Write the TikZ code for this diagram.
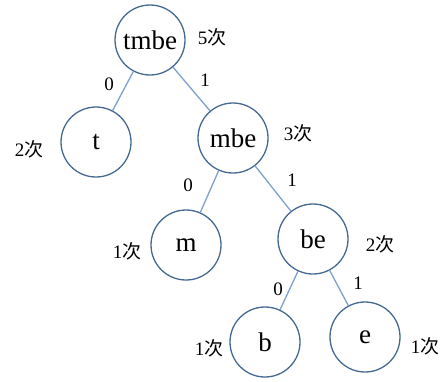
\documentclass[tikz,border=0pt]{standalone}
\usepackage{fontspec}
\setmainfont{Liberation Serif}
\newfontfamily\cjk{Noto Sans CJK SC}
\definecolor{circ}{RGB}{70,105,145}
\definecolor{edge}{RGB}{125,160,205}
\begin{document}
\begin{tikzpicture}[x=1pt,y=-1pt,
  tn/.style={circle,draw=circ,line width=1.3pt,minimum size=70pt,inner sep=0pt,font=\fontsize{27}{27}\selectfont},
  lb/.style={font=\fontsize{19}{19}\selectfont,inner sep=0pt},
  ed/.style={draw=edge,line width=1.3pt}]
\useasboundingbox (0,0) rectangle (446,381);
\node[tn] (tmbe) at (150,40) {tmbe};
\node[tn] (t) at (96,142) {t};
\node[tn] (mbe) at (233,138) {mbe};
\node[tn] (m) at (186,245) {m};
\node[tn] (be) at (313,239) {be};
\node[tn] (b) at (265,342) {b};
\node[tn] (e) at (365,337) {e};
\draw[ed] (tmbe) -- (t);
\draw[ed] (tmbe) -- (mbe);
\draw[ed] (mbe) -- (m);
\draw[ed] (mbe) -- (be);
\draw[ed] (be) -- (b);
\draw[ed] (be) -- (e);
\node[lb] (c5) at (212,37) {5{\cjk 次}};
\node[lb] (l0a) at (109,84) {0};
\node[lb] (l1a) at (205,80) {1};
\node[lb] (c2a) at (29,149) {2{\cjk 次}};
\node[lb] (c3) at (298,133) {3{\cjk 次}};
\node[lb] (l0b) at (188,185) {0};
\node[lb] (l1b) at (292,180) {1};
\node[lb] (c1a) at (127,251) {1{\cjk 次}};
\node[lb] (c2b) at (380,244) {2{\cjk 次}};
\node[lb] (l0c) at (278,289) {0};
\node[lb] (l1c) at (358,283) {1};
\node[lb] (c1b) at (209,348) {1{\cjk 次}};
\node[lb] (c1c) at (425,346) {1{\cjk 次}};
\end{tikzpicture}
\end{document}
